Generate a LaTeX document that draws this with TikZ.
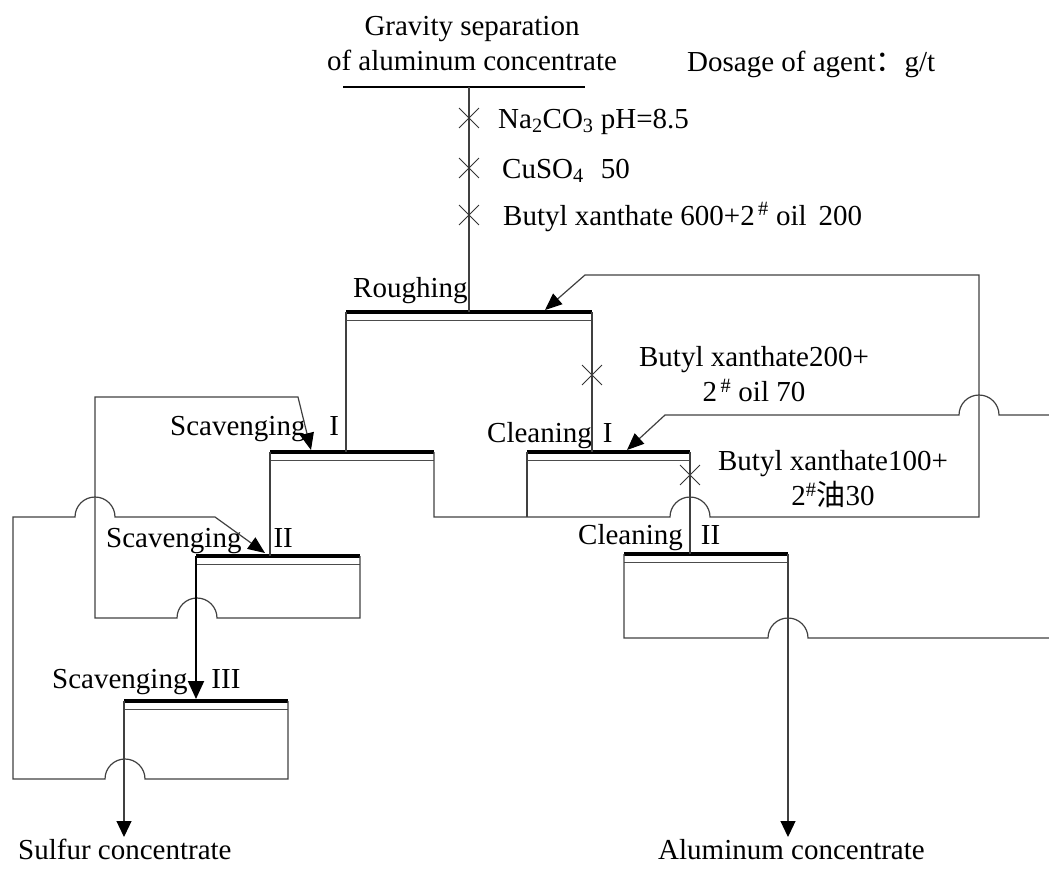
\documentclass[tikz,border=0pt]{standalone}
\usepackage{fontspec}
\setmainfont{Liberation Serif}
\newfontfamily\cjkfont{Noto Sans CJK SC}
\usetikzlibrary{arrows.meta,shapes.misc}
\tikzset{
  lbl/.style={font=\fontsize{29}{35}\selectfont, inner sep=0pt},
  flow/.style={draw=black!75, line width=1.2pt},
  cellbar/.style={draw=black, line width=3.6pt},
  celllip/.style={draw=black!70, line width=1pt},
  backarrow/.style={flow, -{Triangle[length=17pt,width=14pt,color=black]}},
  prodarrow/.style={flow, -{Triangle[length=16pt,width=15pt,color=black]}},
  dosemark/.style={cross out, draw=black!80, line width=0.9pt, minimum size=19pt, inner sep=0pt},
}

\begin{document}
\begin{tikzpicture}[x=1pt, y=-1pt]
    \useasboundingbox (0,0) rectangle (1049,868);
    \coordinate (rough-l) at (346,312);  \coordinate (rough-r) at (592,312);
    \coordinate (scav1-l) at (270,452);  \coordinate (scav1-r) at (434,452);
    \coordinate (clean1-l) at (527,452); \coordinate (clean1-r) at (690,452);
    \coordinate (scav2-l) at (196,556);  \coordinate (scav2-r) at (360,556);
    \coordinate (clean2-l) at (624,554); \coordinate (clean2-r) at (788,554);
    \coordinate (scav3-l) at (124,701);  \coordinate (scav3-r) at (288,701);
    \foreach \c in {rough,scav1,clean1,scav2,clean2,scav3}{
      \draw[cellbar] (\c-l) -- (\c-r);
      \draw[celllip] ([yshift=-8pt]\c-l) -- ([yshift=-8pt]\c-r);
    }

    \node[lbl, anchor=south, align=center] (feed) at (472,71) {Gravity separation\\of aluminum concentrate};
    \node[lbl, anchor=base west] (dosage) at (687,71) {Dosage of agent{\cjkfont ：}g/t};
    \coordinate (feedbar-l) at (343,87);
    \coordinate (feedbar-r) at (585,87);
    \coordinate (feedin) at (469,87);
    \draw[flow, draw=black] (feedbar-l) -- (feedbar-r);
    \draw[flow] (feedin) -- (feedin |- rough-l);

    \node[dosemark] (x-soda) at (469,118) {};
    \node[dosemark] (x-cu) at (469,168) {};
    \node[dosemark] (x-bx) at (469,215) {};
    \node[lbl, anchor=base west] (soda) at (498,128) {Na\textsubscript{2}CO\textsubscript{3} pH=8.5};
    \node[lbl, anchor=base west] (cu) at (502,178) {CuSO\textsubscript{4}\hspace{17pt}50};
    \node[lbl, anchor=base west] (bx) at (503,225) {Butyl xanthate 600+2\textsuperscript{\,\#} oil\hspace{12pt}200};

    \node[lbl, anchor=base west] (roughlbl) at (353,297) {Roughing};
    \node[lbl, anchor=base west] (scav1lbl) at (170,435) {Scavenging\hspace{24pt}I};
    \node[lbl, anchor=base west] (clean1lbl) at (487,442) {Cleaning\hspace{11pt}I};
    \node[lbl, anchor=base west] (scav2lbl) at (106,547) {Scavenging\hspace{32pt}II};
    \node[lbl, anchor=base west] (clean2lbl) at (578,544) {Cleaning\hspace{18pt}II};
    \node[lbl, anchor=base west] (scav3lbl) at (52,688) {Scavenging\hspace{24pt}III};

    \node[dosemark] (x-c1) at (592,375) {};
    \node[lbl, anchor=south, align=center] (c1dose) at (754,402) {Butyl xanthate200+\\2\textsuperscript{\,\#} oil 70};
    \node[dosemark] (x-c2) at (690,475) {};
    \node[lbl, anchor=south, align=center] (c2dose) at (833,508) {Butyl xanthate100+\\2\textsuperscript{\#}{\cjkfont 油}30};

    \draw[flow] (rough-l) -- (rough-l |- scav1-l);
    \draw[flow] (rough-r) -- (rough-r |- clean1-l);
    \draw[flow] (scav1-l) -- (scav1-l |- scav2-l);
    \draw[flow] (clean1-r) -- (clean1-r |- clean2-l);

    \coordinate (mid-l) at (434,517);
    \coordinate (mid-r) at (979,517);
    \coordinate (top-r) at (979,275);
    \coordinate (top-l) at (585,275);
    \coordinate (rough-in) at (545,310);
    \draw[backarrow] (scav1-r) -- (mid-l) -- (670,517) arc[start angle=180, end angle=0, radius=20pt]
      -- (mid-r) -- (top-r) -- (top-l) -- (rough-in);
    \draw[flow] (clean1-l) -- (clean1-l |- mid-l);

    \coordinate (c2back-r) at (1049,415);
    \coordinate (c2back-l) at (665,415);
    \coordinate (clean1-in) at (627,450);
    \draw[backarrow] (c2back-r) -- (999,415) arc[start angle=0, end angle=180, radius=20pt]
      -- (c2back-l) -- (clean1-in);
    \draw[flow] (clean2-l) -- (624,638) -- (768,638) arc[start angle=180, end angle=0, radius=20pt] -- (1049,638);

    \coordinate (s2back) at (95,397);
    \coordinate (scav1-in) at (311,450);
    \draw[backarrow] (scav2-r) -- (360,618) -- (217,618) arc[start angle=0, end angle=180, radius=20pt]
      -- (95,618) -- (s2back) -- (298,397) -- (scav1-in);
    \coordinate (s3back) at (13,517);
    \coordinate (scav2-in) at (265,553);
    \draw[backarrow] (scav3-r) -- (288,779) -- (145,779) arc[start angle=0, end angle=180, radius=20pt]
      -- (13,779) -- (s3back) -- (75,517) arc[start angle=180, end angle=0, radius=20pt]
      -- (215,517) -- (scav2-in);
    \draw[draw=black, line width=2pt, -{Triangle[length=18pt,width=16pt]}] (scav2-l) -- (scav2-l |- 0,699);

    \node[lbl, anchor=base west] (sulfur) at (18,859) {Sulfur concentrate};
    \node[lbl, anchor=base west] (alum) at (658,859) {Aluminum concentrate};
    \draw[prodarrow] (scav3-l) -- (scav3-l |- 0,837);
    \draw[prodarrow] (clean2-r) -- (clean2-r |- 0,837);
  \end{tikzpicture}
\end{document}
